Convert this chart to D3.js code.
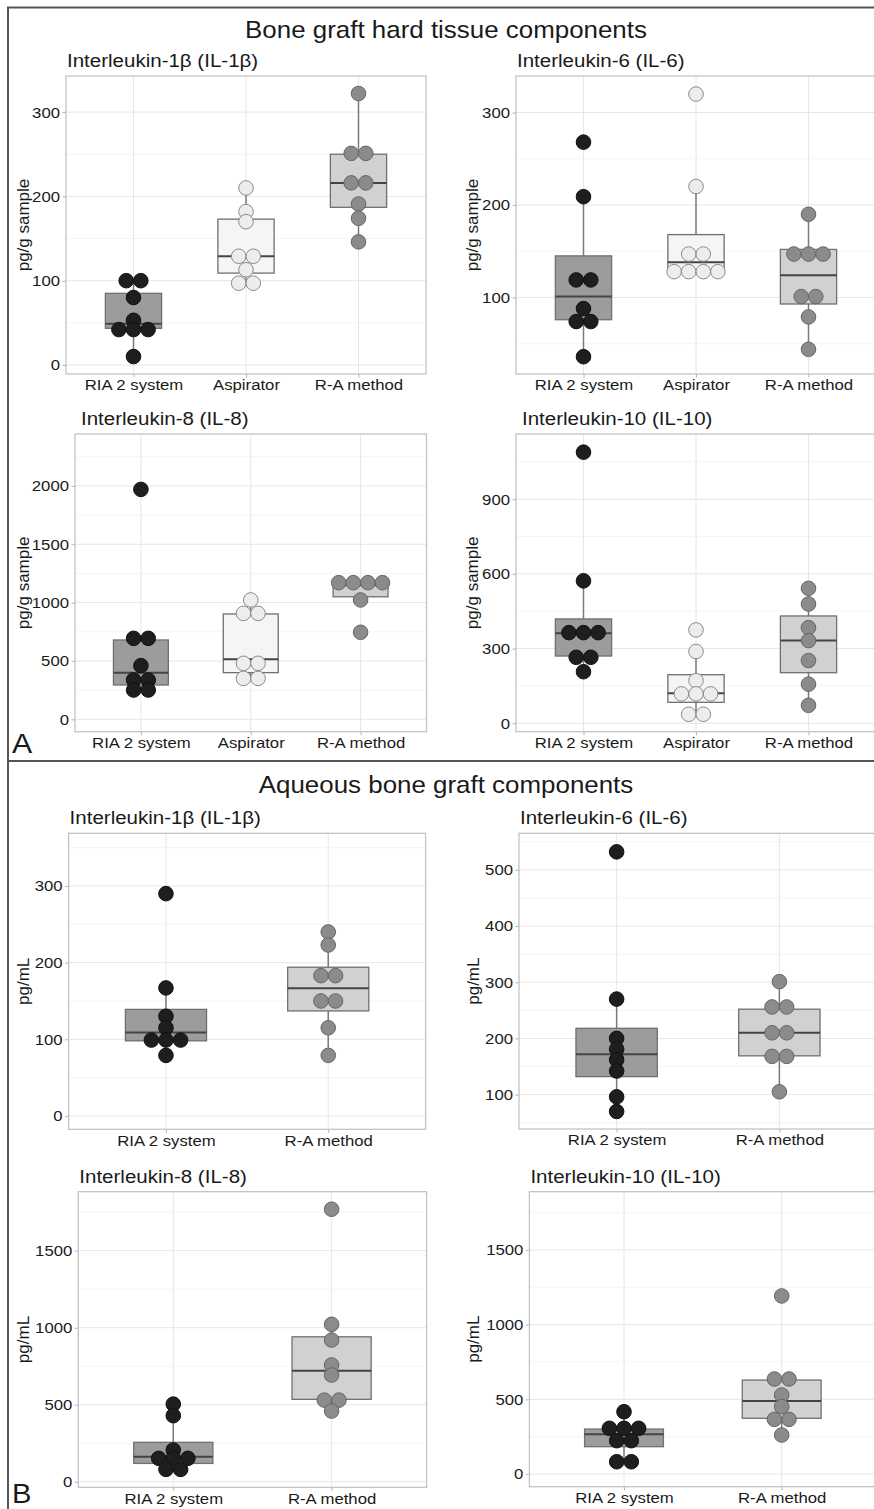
<!DOCTYPE html>
<html>
<head>
<meta charset="utf-8">
<script src="https://cdn.jsdelivr.net/npm/d3@7"></script>
<style>
  body { margin: 0; background: #fff; }
  svg text { font-family: "Liberation Sans", Arial, sans-serif; fill: #1a1a1a; }
</style>
</head>
<body>
<svg id="fig" width="874" height="1509"></svg>
<script>
// groups
const groupsA = ["RIA 2 system", "Aspirator", "R-A method"];
const groupsB = ["RIA 2 system", "R-A method"];

const mainTitles = ["Bone graft hard tissue components", "Aqueous bone graft components"];
const panelTitles = ["Interleukin-1β (IL-1β)", "Interleukin-6 (IL-6)", "Interleukin-8 (IL-8)", "Interleukin-10 (IL-10)",
  "Interleukin-1β (IL-1β)", "Interleukin-6 (IL-6)", "Interleukin-8 (IL-8)", "Interleukin-10 (IL-10)"];
const yLabels = ["pg/g sample", "pg/mL"];

// A: hard tissue, values per group
const hardIL1b = [[100, 100, 80, 53, 42, 42, 42, 10], [210, 182, 170, 129, 129, 113, 97, 97], [322, 251, 251, 216, 216, 191, 174, 146]];
const hardIL6 = [[268, 209, 119, 119, 88, 74, 74, 36], [320, 220, 147, 147, 128, 128, 128, 128], [190, 147, 147, 147, 101, 101, 79, 44]];
const hardIL8 = [[1970, 694, 694, 460, 337, 337, 251, 251], [1023, 908, 908, 480, 480, 351, 351], [1171, 1171, 1171, 1171, 1023, 746]];
const hardIL10 = [[1089, 572, 364, 364, 364, 265, 265, 207], [375, 288, 171, 118, 118, 118, 36, 36], [542, 479, 384, 332, 252, 157, 72]];
// B: aqueous
const aqIL1b = [[290, 167, 130, 115, 99, 99, 99, 79], [240, 223, 183, 183, 150, 150, 115, 79]];
const aqIL6 = [[532, 270, 200, 181, 162, 142, 96, 70], [301, 256, 256, 210, 210, 168, 168, 105]];
const aqIL8 = [[504, 429, 206, 152, 152, 152, 80, 80], [1769, 1022, 920, 758, 693, 530, 530, 459]];
const aqIL10 = [[417, 306, 306, 306, 223, 223, 82, 82], [1192, 636, 636, 529, 451, 366, 366, 261]];

// box stats: [lower whisker, q1, median, q3, upper whisker]
const hardIL1bBox = [[10, 43.5, 49, 85, 100], [97, 109, 129, 173, 210], [146, 187, 216, 250, 322]];
const hardIL6Box = [[36, 76, 101, 145, 209], [127, 127, 138, 168, 220], [44, 93, 124, 152, 190]];
const hardIL8Box = [[251, 294, 400, 680, 694], [351, 400, 514, 903, 1023], [1023, 1050, 1148, 1155, 1171]];
const hardIL10Box = [[207, 270, 362, 419, 572], [36, 84, 120, 195, 288], [72, 203, 332, 431, 542]];
const aqIL1bBox = [[79, 98, 109, 139, 167], [79, 137, 166.5, 194, 240]];
const aqIL6Box = [[70, 132, 172, 218, 270], [105, 169, 210, 252, 301]];
const aqIL8Box = [[80, 119, 162, 256, 429], [459, 535, 721, 941, 1022]];
const aqIL10Box = [[82, 183, 266, 301, 417], [261, 373, 489, 629, 636]];

// y axis ticks and limits
const ticks = [[0, 100, 200, 300], [100, 200, 300], [0, 500, 1000, 1500, 2000], [0, 300, 600, 900],
  [0, 100, 200, 300], [100, 200, 300, 400, 500], [0, 500, 1000, 1500], [0, 500, 1000, 1500]];
const limits = [[-10.7, 342.8], [17.3, 339.5], [-106, 2445], [-34, 1162],
  [-17.4, 368.7], [38.8, 565], [-36, 1883], [-85, 1890]];

const fills = {
  "RIA 2 system": { dot: "#1e1e1e", dotStroke: "#111", box: "#9c9c9c" },
  "Aspirator": { dot: "#ededed", dotStroke: "#8a8a8a", box: "#f5f5f5" },
  "R-A method": { dot: "#8b8b8b", dotStroke: "#666", box: "#d1d1d1" }
};

const panels = [
  { vals: hardIL1b, box: hardIL1bBox, groups: groupsA, ylab: 0, x0: 66, x1: 426, y0: 76, y1: 374, labX: 29 },
  { vals: hardIL6, box: hardIL6Box, groups: groupsA, ylab: 0, x0: 516, x1: 876, y0: 76, y1: 374, labX: 478 },
  { vals: hardIL8, box: hardIL8Box, groups: groupsA, ylab: 0, x0: 75, x1: 426.5, y0: 434, y1: 731.7, labX: 29 },
  { vals: hardIL10, box: hardIL10Box, groups: groupsA, ylab: 0, x0: 516, x1: 876, y0: 434, y1: 731.7, labX: 478 },
  { vals: aqIL1b, box: aqIL1bBox, groups: groupsB, ylab: 1, x0: 68.6, x1: 425.6, y0: 833.3, y1: 1129.3, labX: 29 },
  { vals: aqIL6, box: aqIL6Box, groups: groupsB, ylab: 1, x0: 519, x1: 877, y0: 833.3, y1: 1129, labX: 479 },
  { vals: aqIL8, box: aqIL8Box, groups: groupsB, ylab: 1, x0: 78.3, x1: 426.6, y0: 1191.7, y1: 1487.3, labX: 29 },
  { vals: aqIL10, box: aqIL10Box, groups: groupsB, ylab: 1, x0: 529.4, x1: 876.3, y0: 1191.7, y1: 1486.7, labX: 479 }
];

const svg = d3.select("#fig");
const R = 7.3;
const SX = 1.08; // the source text is a little wider than it is tall

// text with a slight horizontal stretch
function label(parent, x, y, txt, size, anchor) {
  return parent.append("text")
    .attr("transform", `translate(${x},${y}) scale(${SX},1)`)
    .attr("text-anchor", anchor || "start")
    .style("font-size", size + "px")
    .text(txt);
}

// frame
svg.append("path")
  .attr("d", "M8,1509 L8,7.5 L880,7.5 M8,761 L880,761")
  .attr("fill", "none").attr("stroke", "#555").attr("stroke-width", 2);

label(svg, 446, 38, mainTitles[0], 24, "middle");
label(svg, 446, 793, mainTitles[1], 24, "middle");
label(svg, 12, 753, "A", 28);
label(svg, 12, 1503, "B", 27);

panels.forEach((p, i) => {
  const g = svg.append("g");
  // ggplot discrete: range [0.4, n+0.6]
  const xs = d3.scaleLinear().domain([0.4, p.groups.length + 0.6]).range([p.x0, p.x1]);
  const cx = grp => xs(p.groups.indexOf(grp) + 1);
  const unit = xs(2) - xs(1);
  const y = d3.scaleLinear().domain(limits[i]).range([p.y1, p.y0]);

  // grid
  const tk = ticks[i];
  const step = tk[1] - tk[0];
  const minor = d3.range(tk[0] - step / 2, limits[i][1], step).filter(v => v > limits[i][0] && v < limits[i][1]);
  g.selectAll(".minor").data(minor).join("line")
    .attr("x1", p.x0).attr("x2", p.x1).attr("y1", d => y(d)).attr("y2", d => y(d))
    .attr("stroke", "#f2f2f2").attr("stroke-width", 0.8);
  g.selectAll(".major").data(tk).join("line")
    .attr("x1", p.x0).attr("x2", p.x1).attr("y1", d => y(d)).attr("y2", d => y(d))
    .attr("stroke", "#e6e6e6").attr("stroke-width", 1);
  g.selectAll(".vgrid").data(p.groups).join("line")
    .attr("x1", d => cx(d)).attr("x2", d => cx(d)).attr("y1", p.y0).attr("y2", p.y1)
    .attr("stroke", "#e6e6e6").attr("stroke-width", 1);

  // y axis
  const yAxis = d3.axisLeft(y).tickValues(tk).tickSize(3.5).tickPadding(2).tickFormat(d3.format("d"));
  const ya = g.append("g").attr("transform", `translate(${p.x0},0)`).call(yAxis);
  ya.select(".domain").remove();
  ya.selectAll(".tick line").attr("stroke", "#b3b3b3");
  ya.selectAll(".tick text").style("font-size", "15.5px").attr("fill", "#1a1a1a")
    .attr("x", null).attr("transform", `translate(-6,0) scale(${SX},1)`);

  // x axis
  const xAxis = d3.axisBottom(xs).tickValues(p.groups.map((d, k) => k + 1))
    .tickFormat((d) => p.groups[d - 1]).tickSize(3.5).tickPadding(2);
  const xa = g.append("g").attr("transform", `translate(0,${p.y1})`).call(xAxis);
  xa.select(".domain").remove();
  xa.selectAll(".tick line").attr("stroke", "#b3b3b3");
  xa.selectAll(".tick text").style("font-size", "15.5px").attr("fill", "#1a1a1a")
    .attr("transform", `scale(${SX},1)`);

  // panel border
  g.append("rect").attr("x", p.x0).attr("y", p.y0).attr("width", p.x1 - p.x0).attr("height", p.y1 - p.y0)
    .attr("fill", "none").attr("stroke", "#c4c4c4").attr("stroke-width", 1.3);

  // boxes
  const bw = unit * 0.5;
  p.groups.forEach((grp, k) => {
    const b = p.box[k];
    const c = cx(grp);
    g.append("line").attr("x1", c).attr("x2", c).attr("y1", y(b[0])).attr("y2", y(b[1]))
      .attr("stroke", "#7a7a7a").attr("stroke-width", 1.5);
    g.append("line").attr("x1", c).attr("x2", c).attr("y1", y(b[3])).attr("y2", y(b[4]))
      .attr("stroke", "#7a7a7a").attr("stroke-width", 1.5);
    g.append("rect").attr("x", c - bw / 2).attr("width", bw)
      .attr("y", y(b[3])).attr("height", Math.max(0.5, y(b[1]) - y(b[3])))
      .attr("fill", fills[grp].box).attr("stroke", "#707070").attr("stroke-width", 1.3);
    g.append("line").attr("x1", c - bw / 2).attr("x2", c + bw / 2).attr("y1", y(b[2])).attr("y2", y(b[2]))
      .attr("stroke", "#444").attr("stroke-width", 2);
  });

  // dots, stacked centred where values share a bin
  p.groups.forEach((grp, k) => {
    const bins = d3.groups(p.vals[k], v => v);
    const pts = [];
    bins.forEach(([v, arr]) => {
      arr.forEach((_, j) => pts.push({ v, off: (j - (arr.length - 1) / 2) * 2 * R }));
    });
    g.selectAll(null).data(pts).join("circle")
      .attr("cx", d => cx(grp) + d.off).attr("cy", d => y(d.v)).attr("r", R)
      .attr("fill", fills[grp].dot).attr("stroke", fills[grp].dotStroke).attr("stroke-width", 1);
  });

  // titles
  label(g, p.x0 + (i === 2 || i === 3 ? 6 : 1), p.y0 - 9, panelTitles[i], 19);
  g.append("text").attr("transform", `translate(${p.labX},${(p.y0 + p.y1) / 2}) rotate(-90)`)
    .attr("text-anchor", "middle").style("font-size", "17px").text(yLabels[p.ylab]);
});
</script>
</body>
</html>
